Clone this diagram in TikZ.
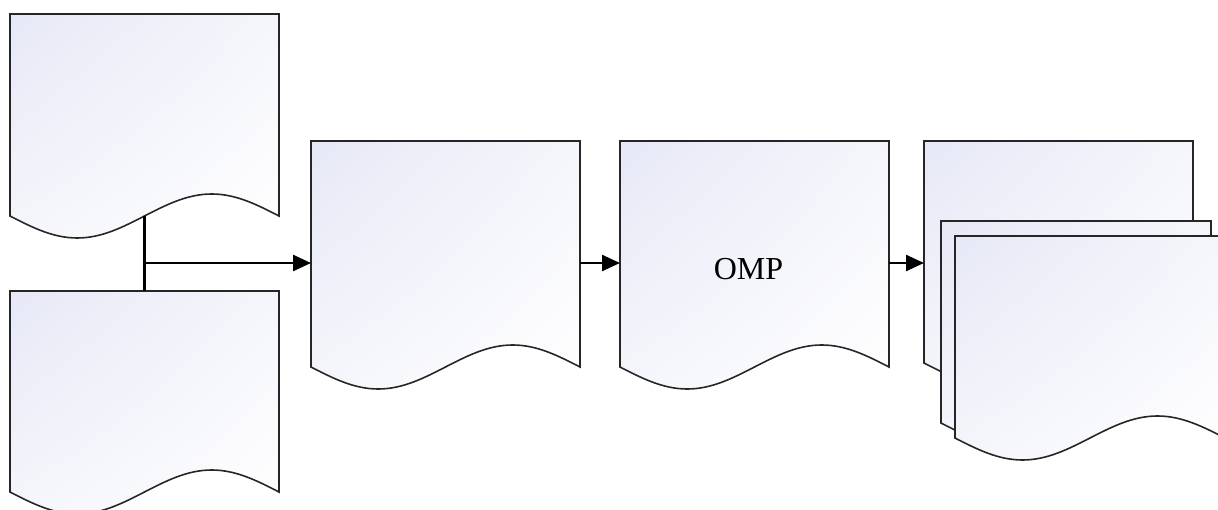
\documentclass[tikz,border=0pt]{standalone}
\usepackage{fontspec}
\setmainfont{Liberation Serif}
\usetikzlibrary{calc,arrows.meta,shadings}

\definecolor{pagetint}{RGB}{230,232,246}
\definecolor{pagemid}{RGB}{245,246,251}

\tikzset{
  page/.style={rectangle, inner sep=0pt, outer sep=0pt, anchor=north west,
    minimum width=269pt, minimum height=#1},
  page/.default=202pt,
  pageline/.style={draw=black!85, line width=1.6pt,
    upper left=pagetint, upper right=pagemid, lower left=pagemid, lower right=white},
  flow/.style={line width=2.4pt, -{Triangle[length=18pt,width=16pt]}},
}

% page outline with a wavy lower edge
\newcommand{\pageshape}[1]{%
  \shadedraw[pageline] (#1.south west) -- (#1.north west) -- (#1.north east) -- (#1.south east)
    sin ($(#1.south east)!0.25!(#1.south west)+(0,22)$)
    cos (#1.south)
    sin ($(#1.south west)!0.25!(#1.south east)+(0,-22)$)
    cos (#1.south west) -- cycle;}

\begin{document}
\begin{tikzpicture}[x=1pt,y=1pt]
  \useasboundingbox (0,0) rectangle (1218,509);
  \clip (0,0) rectangle (1218,509);

  % inputs
  \node[page=202pt] (srcA) at (10,495) {};
  \node[page=201pt] (srcB) at (10,218) {};
  \pageshape{srcA}
  \pageshape{srcB}

  % processing steps
  \node[page=226pt] (merge) at (311,368) {};
  \node[page=226pt] (omp) at (620,368) {};
  \pageshape{merge}
  \pageshape{omp}
  \node[font=\fontsize{32}{38}\selectfont] (ompLabel) at ([xshift=-6pt,yshift=-15pt]omp.center) {OMP};

  % output stack
  \node[page=222pt] (outBack) at (924,368) {};
  \node[page=202pt, minimum width=270pt] (outMid) at (941,288) {};
  \node[page=202pt, minimum width=270pt] (outFront) at (955,273) {};
  \pageshape{outBack}
  \pageshape{outMid}
  \pageshape{outFront}

  % connectors
  \coordinate (split) at (srcA.south |- 0,246);
  \draw[line width=2.4pt] (srcA.south) -- (srcB.north);
  \draw[flow] (split) -- (merge.west |- split);
  \draw[flow] (merge.east |- split) -- (omp.west |- split);
  \draw[flow] (omp.east |- split) -- (outBack.west |- split);
\end{tikzpicture}
\end{document}
